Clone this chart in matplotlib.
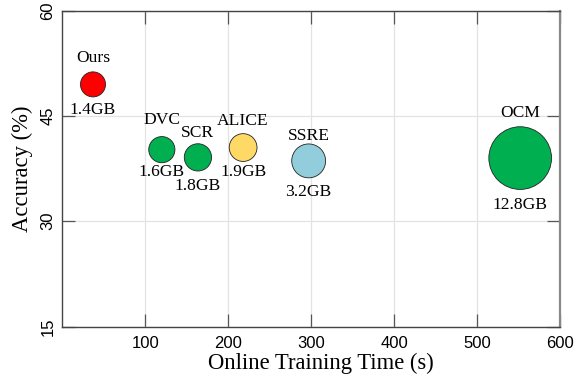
import matplotlib
matplotlib.use("Agg")
import matplotlib.pyplot as plt

methods = ["Ours", "DVC", "SCR", "ALICE", "SSRE", "OCM"]
train_time = [37, 120, 163.5, 218, 297, 552]
accuracy = [49.5, 40.2, 39.1, 40.5, 38.6, 39.0]
memory_gb = [1.4, 1.6, 1.8, 1.9, 3.2, 12.8]
memory_labels = ["1.4GB", "1.6GB", "1.8GB", "1.9GB", "3.2GB", "12.8GB"]
colors = ["#FF0000", "#00B050", "#00B050", "#FFD966", "#92CDDC", "#00B050"]
xticks = [100, 200, 300, 400, 500, 600]
yticks = [15, 30, 45, 60]

# label offsets (pixels above / below marker centre)
above_px = [26, 30, 24.5, 26.5, 25, 45]
below_px = [26, 22, 28.5, 24.5, 31.5, 46.5]

serif = "Liberation Serif"
sans = "Liberation Sans"

fig = plt.figure(figsize=(5.81, 3.79), dpi=100)
ax = fig.add_axes([62.3 / 581, 1 - 326.5 / 379, (560 - 62.3) / 581, (326.5 - 10.7) / 379])

ax.set_xlim(0, 600)
ax.set_ylim(15, 60)
ax.set_xticks(xticks)
ax.set_yticks(yticks)
ax.grid(True, color="#E3E3E3", linewidth=0.9)
ax.set_axisbelow(True)

sizes = [150 * m + 115 for m in memory_gb]
ax.scatter(train_time, accuracy, s=sizes, c=colors, edgecolors="#222222",
           linewidths=0.6, zorder=3)

px2pt = 0.72
for i, name in enumerate(methods):
    ax.annotate(name, (train_time[i], accuracy[i]),
                xytext=(0, above_px[i] * px2pt), textcoords="offset points",
                ha="center", va="center", fontsize=12.6, family=serif, zorder=4)
    ax.annotate(memory_labels[i], (train_time[i], accuracy[i]),
                xytext=(0, -below_px[i] * px2pt), textcoords="offset points",
                ha="center", va="center", fontsize=12.6, family=serif, zorder=4)

ax.tick_params(direction="in", length=9.5, width=0.9, color="#555555",
               top=True, right=True, labelsize=12, pad=6.5)
for lab in ax.get_xticklabels():
    lab.set_family(sans)
for lab in ax.get_yticklabels():
    lab.set_family(sans)
    lab.set_rotation(90)
    lab.set_va("center")
ax.tick_params(axis="y", pad=5)

for side in ["left", "bottom", "top"]:
    ax.spines[side].set_color("#444444")
    ax.spines[side].set_linewidth(1.0)
ax.spines["right"].set_color("#888888")
ax.spines["right"].set_linewidth(1.6)

ax.set_xlabel("Online Training Time (s)", family=serif, fontsize=16.3, labelpad=1.5, x=0.52)
ax.set_ylabel("Accuracy (%)", family=serif, fontsize=16.3, labelpad=5)

fig.savefig("out.png", dpi=100)
